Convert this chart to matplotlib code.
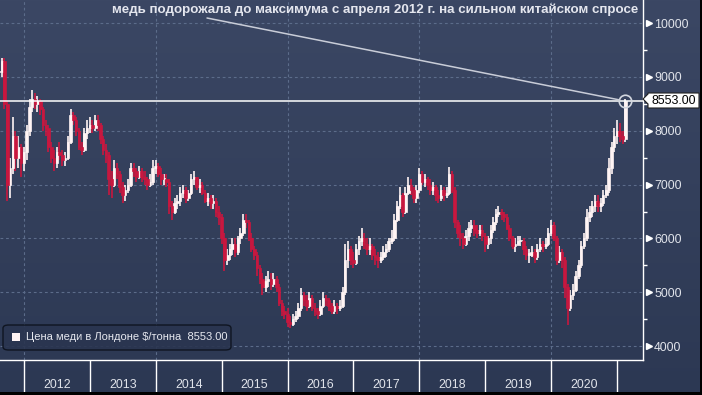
import numpy as np
import pandas as pd
import matplotlib
matplotlib.use("Agg")
import matplotlib.pyplot as plt
import matplotlib.transforms as mtrans
from matplotlib.colors import LinearSegmentedColormap
from matplotlib.patches import FancyBboxPatch, Rectangle, Polygon

plt.rcParams['font.family'] = ['Liberation Sans', 'DejaVu Sans']

# цена меди раз в полмесяца (1-е и 15-е число), $/т: закрытие, максимум, минимум
c2011 = [9100, 9300, 8500, 7000, 7300, 7900, 7500, 7700, 7400]
h2011 = [9300, 9350, 9350, 8550, 7500, 8250, 8000, 7900, 7750]
l2011 = [8950, 9000, 8400, 6700, 6750, 7200, 7250, 7300, 7150]

c2012 = [7600, 8000, 8450, 8600, 8500, 8550, 8400, 8100, 8050, 7700, 7500, 7400,
         7600, 7550, 7450, 7500, 7800, 8300, 8200, 8000, 7700, 7650, 7950, 8050]
h2012 = [7700, 8100, 8600, 8750, 8700, 8650, 8600, 8450, 8200, 8100, 7800, 7650,
         7700, 7800, 7650, 7600, 7900, 8400, 8350, 8250, 8050, 7800, 8050, 8200]
l2012 = [7250, 7450, 7900, 8350, 8400, 8350, 8300, 8000, 7900, 7600, 7400, 7250,
         7300, 7450, 7350, 7350, 7450, 7750, 8100, 7900, 7650, 7550, 7600, 7850]

c2013 = [8100, 8050, 8200, 8100, 7850, 7650, 7550, 7100, 7000, 7300, 7200, 6950,
         6800, 6900, 7000, 7300, 7250, 7150, 7250, 7150, 7100, 7000, 7050, 7300]
h2013 = [8250, 8200, 8300, 8300, 8150, 7900, 7750, 7600, 7250, 7450, 7400, 7250,
         7050, 7000, 7100, 7400, 7400, 7300, 7350, 7300, 7250, 7150, 7200, 7450]
l2013 = [7950, 7950, 8000, 8000, 7750, 7550, 7400, 6800, 6750, 6950, 7100, 6850,
         6650, 6700, 6850, 6950, 7150, 7050, 7100, 7050, 7000, 6900, 6950, 7000]

c2014 = [7350, 7200, 7100, 7100, 7050, 6600, 6500, 6650, 6700, 6850, 6900, 6750,
         6850, 7100, 7150, 6950, 7000, 6850, 6700, 6750, 6650, 6700, 6500, 6400]
h2014 = [7450, 7400, 7300, 7200, 7200, 7100, 6700, 6750, 6800, 6950, 7000, 6950,
         6900, 7200, 7250, 7150, 7100, 7050, 6900, 6850, 6800, 6800, 6750, 6600]
l2014 = [7200, 7150, 7000, 7000, 6950, 6450, 6350, 6450, 6550, 6600, 6750, 6650,
         6700, 6800, 7000, 6900, 6850, 6800, 6650, 6600, 6550, 6550, 6400, 6250]

c2015 = [6000, 5600, 5700, 5800, 5900, 5750, 6000, 6100, 6350, 6300, 6000, 5800,
         5700, 5450, 5250, 5100, 5200, 5250, 5150, 5250, 5100, 4800, 4650, 4600]
h2015 = [6450, 6100, 5800, 5900, 6000, 6000, 6050, 6200, 6450, 6450, 6350, 6100,
         5850, 5750, 5500, 5350, 5300, 5400, 5350, 5350, 5300, 5150, 4850, 4750]
l2015 = [5900, 5400, 5500, 5600, 5700, 5650, 5700, 5900, 6050, 6200, 5950, 5750,
         5600, 5300, 5150, 4950, 5000, 5100, 5050, 5100, 5000, 4750, 4550, 4500]

c2016 = [4450, 4400, 4500, 4550, 4700, 4950, 4850, 4750, 4900, 4700, 4650, 4600,
         4750, 4900, 4850, 4750, 4650, 4750, 4700, 4750, 5000, 5600, 5800, 5600]
h2016 = [4700, 4550, 4600, 4650, 4800, 5080, 5000, 4950, 5000, 4950, 4800, 4700,
         4850, 5000, 4950, 4900, 4800, 4850, 4800, 4850, 5100, 5900, 5950, 5850]
l2016 = [4350, 4330, 4380, 4450, 4500, 4650, 4750, 4650, 4700, 4650, 4550, 4500,
         4550, 4700, 4750, 4650, 4600, 4600, 4600, 4650, 4700, 4950, 5450, 5500]

c2017 = [5550, 5800, 5950, 6000, 5900, 5800, 5850, 5700, 5650, 5600, 5650, 5750,
         5800, 5950, 6000, 6350, 6600, 6800, 6500, 6850, 7000, 6900, 6750, 6900]
h2017 = [5750, 5900, 6050, 6200, 6100, 6000, 6000, 5900, 5800, 5750, 5750, 5850,
         5900, 6000, 6150, 6450, 6700, 6950, 6850, 6950, 7150, 7100, 6950, 7000]
l2017 = [5450, 5500, 5700, 5850, 5800, 5700, 5700, 5600, 5500, 5450, 5550, 5600,
         5650, 5750, 5900, 5950, 6300, 6550, 6400, 6450, 6800, 6800, 6650, 6650]

c2018 = [7200, 7050, 7100, 7000, 6900, 6950, 6800, 6750, 6900, 6800, 6850, 7200,
         6900, 6300, 6100, 6000, 5900, 6050, 6200, 6250, 6150, 6100, 6150, 6050]
h2018 = [7300, 7250, 7200, 7150, 7100, 7050, 7000, 6900, 7000, 6950, 6950, 7330,
         7250, 6950, 6350, 6250, 6100, 6150, 6300, 6350, 6350, 6250, 6250, 6250]
l2018 = [6850, 7000, 6950, 6900, 6800, 6800, 6700, 6650, 6700, 6700, 6750, 6800,
         6850, 6200, 6000, 5850, 5800, 5850, 5950, 6100, 6050, 6000, 6050, 5950]

c2019 = [5900, 6000, 6150, 6300, 6450, 6500, 6450, 6400, 6200, 6000, 5850, 5900,
         5950, 5950, 5800, 5700, 5700, 5750, 5650, 5800, 5900, 5850, 5900, 6100]
h2019 = [6100, 6050, 6250, 6400, 6550, 6600, 6550, 6500, 6450, 6250, 6050, 6000,
         6050, 6050, 6000, 5850, 5800, 5850, 5800, 5900, 6000, 5950, 6000, 6200]
l2019 = [5750, 5800, 5900, 6100, 6250, 6400, 6350, 6300, 6150, 5950, 5800, 5750,
         5850, 5850, 5700, 5600, 5550, 5650, 5550, 5600, 5750, 5750, 5800, 5850]

c2020 = [6250, 6000, 5600, 5750, 5600, 5100, 4700, 4950, 5050, 5300, 5500, 5850,
         6000, 6400, 6500, 6600, 6700, 6600, 6650, 6800, 6900, 7300, 7700, 7900]
h2020 = [6350, 6300, 6050, 5850, 5800, 5650, 5150, 5050, 5150, 5400, 5600, 5950,
         6100, 6550, 6600, 6700, 6800, 6800, 6750, 6900, 7000, 7500, 7800, 8050]
l2020 = [6050, 5950, 5500, 5550, 5450, 4900, 4390, 4650, 4850, 5000, 5250, 5450,
         5800, 5950, 6300, 6400, 6500, 6500, 6500, 6600, 6750, 6850, 7200, 7600]

c2021 = [8000, 7900, 7850, 8553]
h2021 = [8200, 8150, 8000, 8600]
l2021 = [7750, 7800, 7750, 7800]

year_labels = ['2012', '2013', '2014', '2015', '2016', '2017', '2018', '2019', '2020']
title = 'медь подорожала до максимума с апреля 2012 г. на сильном китайском спросе'
legend_name = 'Цена меди в Лондоне $/тонна'

closes = np.array(c2011 + c2012 + c2013 + c2014 + c2015 + c2016 + c2017 + c2018
                  + c2019 + c2020 + c2021, dtype=float)
highs = np.array(h2011 + h2012 + h2013 + h2014 + h2015 + h2016 + h2017 + h2018
                 + h2019 + h2020 + h2021, dtype=float)
lows = np.array(l2011 + l2012 + l2013 + l2014 + l2015 + l2016 + l2017 + l2018
                + l2019 + l2020 + l2021, dtype=float)
dates = pd.date_range('2011-08-15', periods=len(closes), freq='SMS')
t = np.asarray(dates.year + (dates.dayofyear - 1) / 365.25, dtype=float)
opens = np.concatenate([[closes[0]], closes[:-1]])
last = closes[-1]

W, H = 702, 395
fig = plt.figure(figsize=(W / 100, H / 100), dpi=100)

# фон с градиентом
bg = fig.add_axes([0, 0, 1, 1])
bg.axis('off')
cmap = LinearSegmentedColormap.from_list('bg', ['#3b4764', '#2c3853'])
bg.imshow(np.linspace(0, 1, 256).reshape(-1, 1), aspect='auto', cmap=cmap,
          extent=[0, 1, 0, 1], origin='upper')
bg.set_xlim(0, 1)
bg.set_ylim(0, 1)

ax = fig.add_axes([0, 35 / H, 643 / W, 360 / H])
ax.patch.set_alpha(0)
ax.set_xlim(2011.636, 2021.393)
ax.set_ylim(3740, 10431)

for v in range(4000, 10001, 1000):
    ax.axhline(v, color='#5c6c8a', lw=0.8, ls=(0, (2.5, 2.5)), zorder=1)
for yr in range(2012, 2021, 2):
    ax.axvline(yr, color='#5c6c8a', lw=0.8, ls=(0, (2.5, 2.5)), zorder=1)

# свечи
white, red = '#fff4f4', '#c8173f'
up = closes >= opens
cols = np.where(up, white, red)
ax.vlines(t, lows, highs, colors=cols, lw=1.2, zorder=3)
lo = np.minimum(opens, closes)
hgt = np.maximum(np.abs(closes - opens), 20)
w = 0.95 / 24
ax.bar(t[up], hgt[up], bottom=lo[up], width=w, color=white,
       edgecolor=white, lw=0.5, zorder=3)
ax.bar(t[~up], hgt[~up], bottom=lo[~up], width=w, color=red,
       edgecolor=red, lw=0.5, zorder=3)

ax.axhline(last, color='white', lw=1.1, zorder=4)
ax.plot(t[-1], last, 'o', ms=9, mfc='none', mec='#d3d7e0', mew=1.2, zorder=5,
        clip_on=False)
ax.annotate('', xy=(t[-1], last), xycoords='data',
            xytext=(207, H - 18), textcoords='figure pixels',
            arrowprops=dict(arrowstyle='-', color='#c9cdd8', lw=1.1,
                            shrinkA=0, shrinkB=4.5), zorder=5)
fig.text(638 / W, 1 - 10 / H, title, ha='right', va='center', fontsize=9.6,
         weight='bold', color='#e4e6ee')

# оси
for s in ['top', 'left']:
    ax.spines[s].set_visible(False)
for s in ['right', 'bottom']:
    ax.spines[s].set_color('white')
    ax.spines[s].set_linewidth(1)

ax.yaxis.tick_right()
ax.set_yticks(range(4000, 10001, 1000))
ax.set_yticks(range(4500, 10001, 1000), minor=True)
ax.tick_params(axis='y', which='major', length=0, pad=8, labelsize=8.9,
               labelcolor='#e0e3ea')
ax.tick_params(axis='y', which='minor', length=3, width=1, color='white',
               direction='out')
tri = mtrans.blended_transform_factory(ax.transAxes, ax.transData)
ax.plot([1 + 5.5 / 643] * 7, range(4000, 10001, 1000), ls='none', marker='>',
        ms=4.5, color='white', transform=tri, clip_on=False)

ax.set_xticks([int(y) + 0.5 for y in year_labels])
ax.set_xticklabels(year_labels)
ax.set_xticks(range(2012, 2022), minor=True)
ax.tick_params(axis='x', which='major', length=0, pad=14, labelsize=8.9,
               labelcolor='#e0e3ea')
ax.tick_params(axis='x', which='minor', length=24, width=1, color='white',
               direction='out')


def px(x, y):
    return (x / W, 1 - y / H)


# метка последней цены
box = Polygon([px(643, 99), px(648, 94), px(648, 93), px(699, 93), px(699, 108),
               px(648, 108), px(648, 104)], closed=True, transform=fig.transFigure,
              facecolor='white', edgecolor='#222222', lw=0.8)
fig.add_artist(box)
fig.text(673.5 / W, 1 - 100.5 / H, f'{last:.2f}', ha='center', va='center',
         fontsize=8.9, color='black')

# легенда
lx0, ly0 = px(3, 350)
lx1, ly1 = px(231, 325)
leg = FancyBboxPatch((lx0, ly0), lx1 - lx0, ly1 - ly0,
                     boxstyle='round,pad=0,rounding_size=0.008',
                     transform=fig.transFigure, facecolor='#2a3550',
                     edgecolor='#0c111c', lw=1, alpha=0.9)
fig.add_artist(leg)
sx, sy = px(12, 341)
fig.add_artist(Rectangle((sx, sy), 8 / W, 8 / H, transform=fig.transFigure,
                         facecolor=white, edgecolor='none'))
fig.text(26 / W, 1 - 337.5 / H, f'{legend_name}  {last:.2f}', ha='left',
         va='center', fontsize=8, color='#e6e8ef')

# чёрная кромка снизу и справа
fig.add_artist(Rectangle((0, 0), 1, 3 / H, transform=fig.transFigure,
                         facecolor='black', edgecolor='none'))
fig.add_artist(Rectangle((1 - 2 / W, 0), 2 / W, 1, transform=fig.transFigure,
                         facecolor='black', edgecolor='none'))

fig.savefig('out.png', dpi=100)
